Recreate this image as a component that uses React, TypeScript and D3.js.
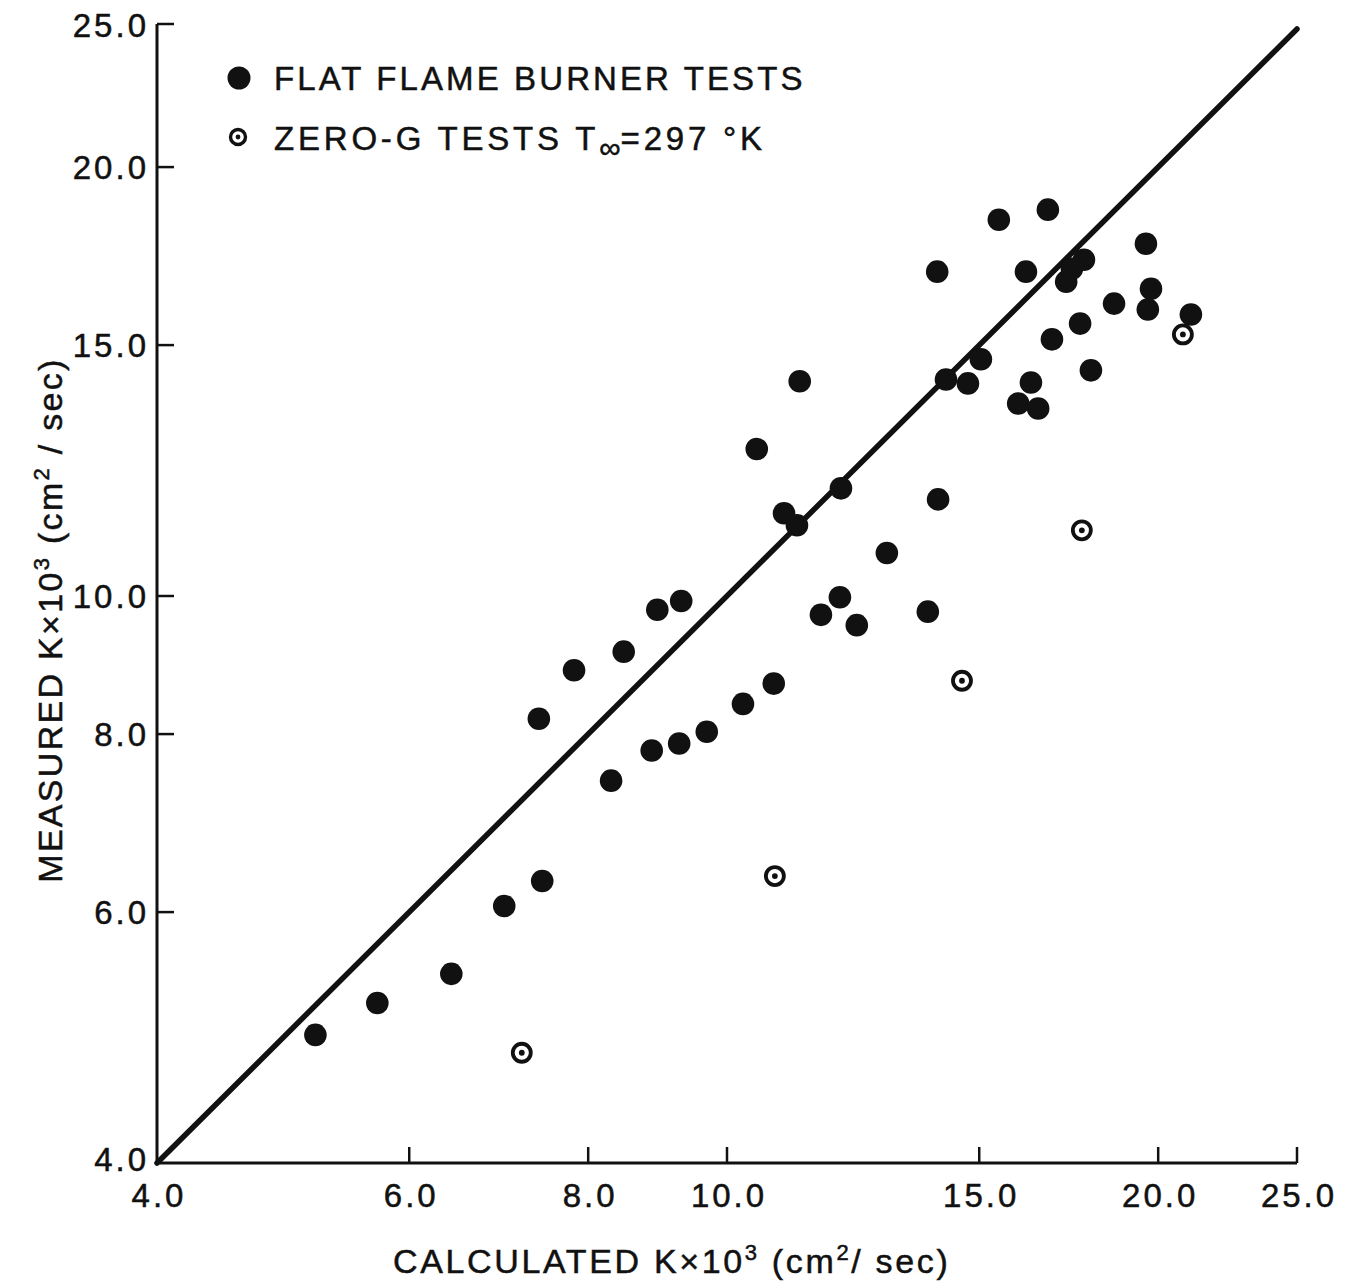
import React from "react";
import * as d3 from "d3";

const flatCalc = [5.16, 5.70, 6.42, 6.99, 7.43, 7.39, 7.82, 8.30, 8.47, 8.86, 8.94, 9.26, 9.29, 9.68, 10.26, 10.49, 10.78, 10.96, 11.19, 11.24, 11.63, 11.99, 12.01, 12.32, 12.93, 13.81, 14.04, 14.02, 14.22, 14.73, 15.04, 15.48, 15.97, 16.17, 16.30, 16.49, 16.75, 16.86, 17.25, 17.41, 17.64, 17.75, 17.95, 18.63, 19.61, 19.77, 19.67, 21.08];
const flatMeas = [4.92, 5.18, 5.43, 6.06, 6.31, 8.20, 8.87, 7.42, 9.14, 7.79, 9.78, 7.88, 9.92, 8.03, 8.40, 12.68, 8.68, 11.43, 11.21, 14.15, 9.70, 9.98, 11.90, 9.54, 10.72, 9.75, 11.69, 16.89, 14.19, 14.10, 14.66, 18.37, 13.65, 16.89, 14.12, 13.54, 18.67, 15.14, 16.62, 16.97, 15.53, 17.22, 14.40, 16.04, 17.67, 16.43, 15.89, 15.76];

const zeroGCalc = [7.19, 10.80, 14.59, 17.69, 20.81];
const zeroGMeas = [4.78, 6.36, 8.72, 11.12, 15.26];

const tickValues = [4, 6, 8, 10, 15, 20, 25];
const tickLabels = ["4.0", "6.0", "8.0", "10.0", "15.0", "20.0", "25.0"];
const lineEnds = [4, 25];

const FONT = "'Liberation Sans', Arial, sans-serif";
const INK = "#111";

export default function App() {
  const x = d3.scaleLog().domain([4, 25]).range([157, 1297]);
  const y = d3.scaleLog().domain([4, 25]).range([1163, 29]);

  const lineGen = d3.line<number>().x((d) => x(d)).y((d) => y(d));
  const last = tickValues.length - 1;

  return (
    <svg
      width={1350}
      height={1282}
      style={{ position: "absolute", left: 0, top: 0, background: "#fff" }}
      fontFamily={FONT}
    >
      <rect x={0} y={0} width={1350} height={1282} fill="#fff" />
      {/* axes */}
      <line x1={x(4)} x2={x(25)} y1={y(4)} y2={y(4)} stroke={INK} strokeWidth={3} />
      <line x1={x(4)} x2={x(4)} y1={y(4)} y2={y(25) - 5} stroke={INK} strokeWidth={3} />
      {tickValues.map((v, i) => (
        <g key={"yt" + i}>
          {i > 0 && (
            <line x1={x(4)} x2={x(4) + 17} y1={y(v) - (i === last ? 5 : 0)} y2={y(v) - (i === last ? 5 : 0)} stroke={INK} strokeWidth={2.5} />
          )}
          <text
            x={149}
            y={y(v) + (i === 0 ? -4 : 0) + (i === last ? -4 : 0)}
            dy="0.36em"
            textAnchor="end"
            fontSize={33}
            letterSpacing={3}
            fill={INK}
            stroke={INK}
            strokeWidth={0.5}
          >
            {tickLabels[i]}
          </text>
        </g>
      ))}
      {tickValues.map((v, i) => (
        <g key={"xt" + i}>
          {i > 0 && (
            <line x1={x(v)} x2={x(v)} y1={y(4)} y2={y(4) - 16} stroke={INK} strokeWidth={2.5} />
          )}
          <text
            x={x(v) + 2}
            y={1207}
            textAnchor="middle"
            fontSize={33}
            letterSpacing={3}
            fill={INK}
            stroke={INK}
            strokeWidth={0.5}
          >
            {tickLabels[i]}
          </text>
        </g>
      ))}

      {/* diagonal line */}
      <path d={lineGen(lineEnds) || ""} stroke={INK} strokeWidth={5.5} strokeLinecap="round" fill="none" />

      {/* flat flame points */}
      {flatCalc.map((c, i) => (
        <circle key={"f" + i} cx={x(c)} cy={y(flatMeas[i])} r={11.3} fill={INK} />
      ))}

      {/* zero-g points */}
      {zeroGCalc.map((c, i) => (
        <g key={"z" + i}>
          <circle cx={x(c)} cy={y(zeroGMeas[i])} r={9} fill="#fff" stroke={INK} strokeWidth={3.8} />
          <circle cx={x(c)} cy={y(zeroGMeas[i])} r={2.9} fill={INK} />
        </g>
      ))}

      {/* legend */}
      <circle cx={239} cy={78} r={11.5} fill={INK} />
      <text x={274} y={90} fontSize={33} letterSpacing={3.1} fill={INK} stroke={INK} strokeWidth={0.5}>
        FLAT FLAME BURNER TESTS
      </text>
      <circle cx={238} cy={137} r={7.5} fill="#fff" stroke={INK} strokeWidth={3.4} />
      <circle cx={238} cy={137} r={2.4} fill={INK} />
      <text x={274} y={150} fontSize={33} letterSpacing={3.8} fill={INK} stroke={INK} strokeWidth={0.5}>
        ZERO-G TESTS T
        <tspan fontSize={30} dy={8} letterSpacing={0}>∞</tspan>
        <tspan dy={-8}>=297 °K</tspan>
      </text>

      {/* x title */}
      <text x={393} y={1273} fontSize={34} letterSpacing={2.65} fill={INK} stroke={INK} strokeWidth={0.5}>
        CALCULATED K×10
        <tspan fontSize={22} dy={-13}>3</tspan>
        <tspan dy={13}> (cm</tspan>
        <tspan fontSize={22} dy={-13}>2</tspan>
        <tspan dy={13}>/ sec)</tspan>
      </text>

      {/* y title */}
      <text
        transform="translate(62,620) rotate(-90)"
        textAnchor="middle"
        fontSize={34}
        letterSpacing={2.3}
        fill={INK}
        stroke={INK}
        strokeWidth={0.5}
      >
        MEASURED K×10
        <tspan fontSize={22} dy={-13}>3</tspan>
        <tspan dy={13}> (cm</tspan>
        <tspan fontSize={22} dy={-13}>2</tspan>
        <tspan dy={13}> / sec)</tspan>
      </text>
    </svg>
  );
}
